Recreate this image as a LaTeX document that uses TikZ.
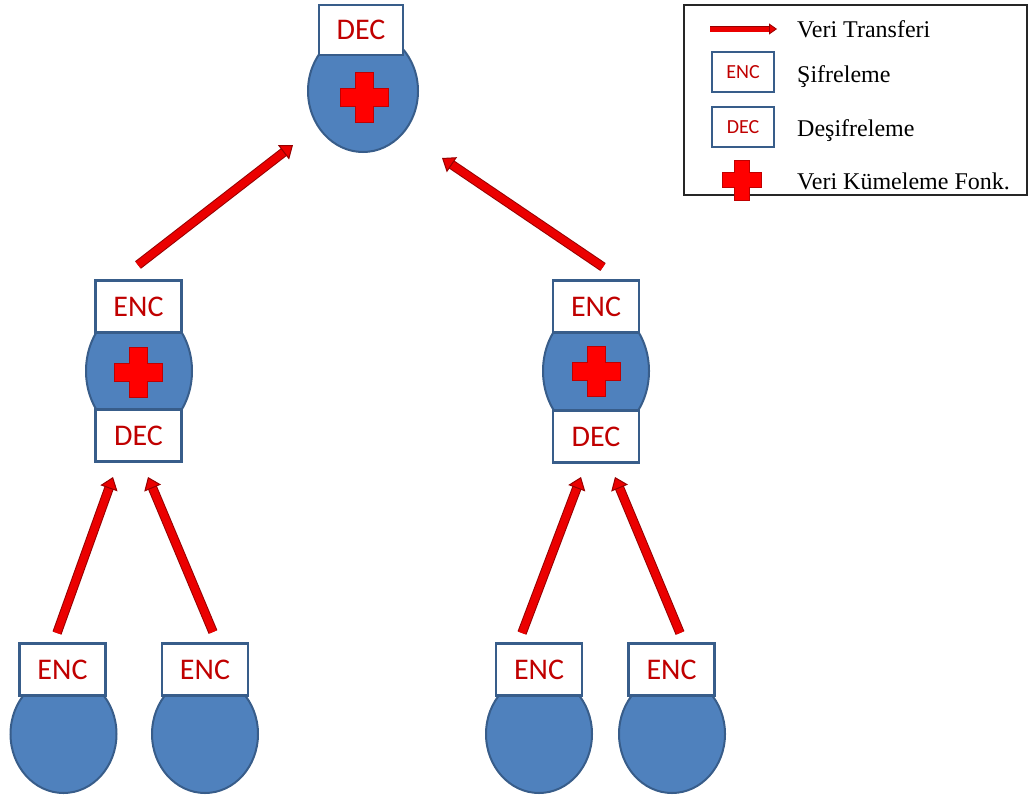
\documentclass[tikz,border=0pt]{standalone}
\usepackage{fontspec}
\setmainfont{Liberation Serif}
\newfontfamily\calib{Carlito}
\usetikzlibrary{arrows.meta,shapes.geometric}

\definecolor{boxblue}{RGB}{56,93,138}
\definecolor{fillblue}{RGB}{79,129,189}
\definecolor{txtred}{RGB}{192,0,0}
\definecolor{arrred}{RGB}{235,0,0}
\definecolor{arrdark}{RGB}{150,0,0}
\definecolor{crossred}{RGB}{255,0,0}

\tikzset{
  bx/.style={draw=boxblue, fill=white, line width=2.5pt, minimum width=86pt,
    minimum height=52pt, inner sep=0pt, text=txtred,
    font=\calib\fontsize{30}{30}\selectfont},
  smallbx/.style={draw=boxblue, fill=white, line width=2pt, minimum width=62pt,
    minimum height=40pt, inner sep=0pt, text=txtred,
    font=\calib\fontsize{20}{20}\selectfont},
  blob/.style={ellipse, draw=boxblue, fill=fillblue, line width=2pt,
    minimum width=106pt, minimum height=118pt, inner sep=0pt},
  flow/.style={draw=arrred, line width=7.5pt,
    -{Triangle[width=18pt,length=12pt,fill=arrred,color=arrdark,line width=1pt]},
    preaction={draw=arrdark, line width=9.5pt, shorten >=10pt, arrows=-}},
  legtxt/.style={anchor=base west, inner sep=0pt,
    font=\fontsize{24}{28}\selectfont},
  pics/redcross/.style={code={
    \filldraw[fill=crossred, draw=txtred, line width=1pt]
      (-9,-25)--(9,-25)--(9,-9)--(24,-9)--(24,9)--(9,9)--(9,25)
      --(-9,25)--(-9,9)--(-24,9)--(-24,-9)--(-9,-9)--cycle;}}
}

\begin{document}
\begin{tikzpicture}[x=1pt,y=-1pt]
\useasboundingbox (0,0) rectangle (1032,798);

% root: aggregator with decryption
\node[blob, minimum width=110pt, minimum height=122pt] (rootc) at (363,91) {};
\pic at (364,97) {redcross};
\node[bx, minimum width=84pt, minimum height=50pt] (rootdec) at (361,30) {DEC};

% left intermediate aggregator
\node[blob, minimum height=130pt] (lc) at (139,371) {};
\pic at (138.5,372) {redcross};
\node[bx] (lenc) at (138.5,306.5) {ENC};
\node[bx] (ldec) at (138.5,435.5) {DEC};

% right intermediate aggregator
\node[blob, minimum height=130pt] (rc) at (596,371) {};
\pic at (596,371) {redcross};
\node[bx] (renc) at (596,306.5) {ENC};
\node[bx] (rdec) at (596,436.5) {DEC};

% leaf sensors
\node[blob] (s1c) at (63.5,734) {};
\node[bx] (s1) at (62.5,669.5) {ENC};
\node[blob] (s2c) at (205,734) {};
\node[bx] (s2) at (205,669.5) {ENC};
\node[blob] (s3c) at (539,734) {};
\node[bx] (s3) at (539,669.5) {ENC};
\node[blob] (s4c) at (672,734) {};
\node[bx] (s4) at (671.5,669.5) {ENC};

% data transfer arrows
\coordinate (a1s) at (138,265);  \coordinate (a1e) at (293,145);
\coordinate (a2s) at (603,267);  \coordinate (a2e) at (442,158);
\coordinate (a3s) at (57,633);   \coordinate (a3e) at (113,477);
\coordinate (a4s) at (213,632);  \coordinate (a4e) at (148,477);
\coordinate (a5s) at (522,633);  \coordinate (a5e) at (581,477);
\coordinate (a6s) at (680,633);  \coordinate (a6e) at (615,477);
\foreach \i in {1,...,6}{\draw[flow] (a\i s) -- (a\i e);}

% legend
\node[draw=black!85, line width=2pt, minimum width=343pt, minimum height=190pt,
  anchor=north west, inner sep=0pt] (legend) at (683,4) {};
\coordinate (la) at (710,29);
\coordinate (lb) at (777,29);
\draw[draw=arrred, line width=5pt,
  -{Triangle[width=11pt,length=8pt,fill=arrred,color=arrdark,line width=0.8pt]},
  preaction={draw=arrdark, line width=6.5pt, shorten >=7pt, arrows=-}] (la) -- (lb);
\node[legtxt] (l1) at (797,37) {Veri Transferi};
\node[smallbx] (lenc) at (743,72) {ENC};
\node[legtxt] (l2) at (797,82) {Şifreleme};
\node[smallbx] (ldec) at (743,127) {DEC};
\node[legtxt] (l3) at (797,136) {Deşifreleme};
\pic[scale=0.8] at (742,180) {redcross};
\node[legtxt] (l4) at (797,189) {Veri Kümeleme Fonk.};
\end{tikzpicture}
\end{document}
